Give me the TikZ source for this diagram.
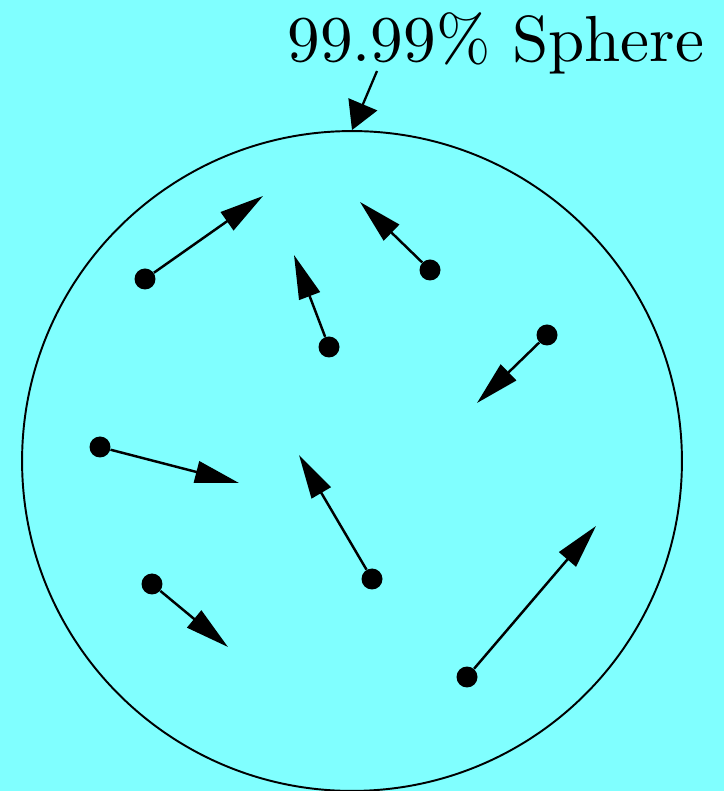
\documentclass[tikz,border=0pt]{standalone}
\usetikzlibrary{arrows.meta}
\definecolor{bgcyan}{RGB}{128,255,255}

\begin{document}
\begin{tikzpicture}[
    x=0.02cm, y=0.02cm,
    dot/.style={circle, fill=black, inner sep=0pt, minimum size=0.42cm},
    vec/.style={line width=1.4pt, -{Triangle[length=0.88cm, width=0.44cm]}},
    pointer/.style={line width=1.3pt, -{Triangle[length=0.56cm, width=0.62cm]}},
]
% ---------------- canvas
\fill[bgcyan] (0,0) rectangle (724,791);
\useasboundingbox (0,0) rectangle (724,791);

% ---------------- the sphere and its label
\node[circle, draw, line width=1.1pt, inner sep=0pt, minimum size=13.2cm] (sphere) at (352,330) {};
\node[anchor=base, inner sep=0pt] (title) at (496,729) {\scalebox{3.71}{99.99\% Sphere}};
\coordinate (titlefoot) at (377,720);
\draw[pointer] (titlefoot) -- (sphere.north);

% ---------------- particles with their velocities
\foreach \i/\dx/\dy/\tx/\ty in {1/145/512/263/595, 2/329/444/294/536, 3/430/521/360/589,
    4/547/456/477/388, 5/100/344/239/308, 6/372/212/299/336, 7/152/207/228/144, 8/467/114/596/265}{
    \node[dot] (d\i) at (\dx,\dy) {};
    \coordinate (t\i) at (\tx,\ty);
    \draw[vec] (d\i) -- (t\i);
}
\end{tikzpicture}
\end{document}
